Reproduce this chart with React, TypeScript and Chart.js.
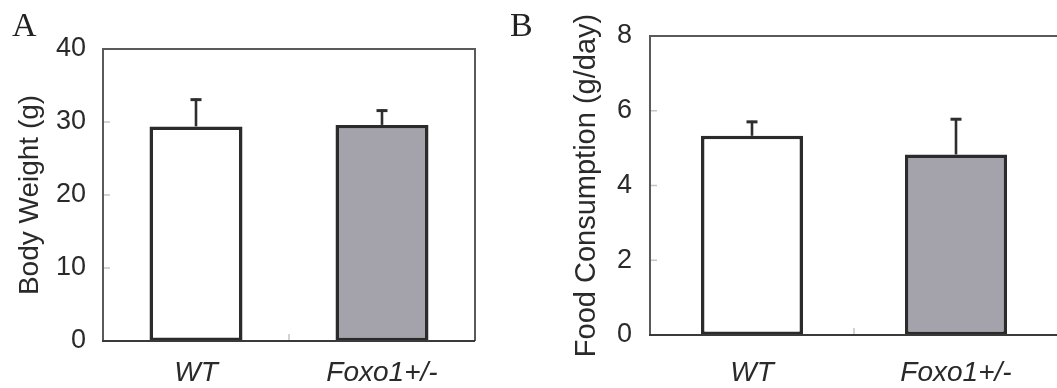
import React, { useEffect, useRef } from 'react';
import { Chart, registerables } from 'chart.js';

Chart.register(...registerables);

// Groups compared in both panels
const groups = ['WT', 'Foxo1+/-'];

// Panel A: body weight (g), mean and SE
const bodyWeight = [29.4, 29.6];
const bodyWeightErr = [3.8, 2.1];
const bodyWeightTicks = [0, 10, 20, 30, 40];

// Panel B: food consumption (g/day), mean and SE
const foodConsumption = [5.33, 4.83];
const foodConsumptionErr = [0.4, 0.97];
const foodConsumptionTicks = [0, 2, 4, 6, 8];

const barFills = ['#ffffff', '#a4a3ab'];
const SANS = "'Liberation Sans', Arial, Helvetica, sans-serif";
const SERIF = "'Liberation Serif', 'Times New Roman', serif";

// Box around the plot area plus short inward tick marks
const framePlugin = {
  id: 'frame',
  beforeDatasetsDraw(chart: any) {
    const { ctx, chartArea: a, scales } = chart;
    ctx.save();
    ctx.strokeStyle = '#c4c4c8';
    ctx.lineWidth = 1.5;
    const y = scales.y;
    y.ticks.forEach((_t: any, i: number) => {
      const py = y.getPixelForTick(i);
      ctx.beginPath();
      ctx.moveTo(a.left, py);
      ctx.lineTo(a.left + 7, py);
      ctx.stroke();
    });
    const x = scales.x;
    const mid = x.getPixelForValue(0.5);
    ctx.beginPath();
    ctx.moveTo(mid, a.bottom);
    ctx.lineTo(mid, a.bottom - 7);
    ctx.stroke();
    ctx.restore();
  },
  afterDatasetsDraw(chart: any) {
    const { ctx, chartArea: a } = chart;
    ctx.save();
    ctx.strokeStyle = '#5a5a5a';
    ctx.lineWidth = 2;
    ctx.beginPath();
    ctx.moveTo(a.left, a.bottom);
    ctx.lineTo(a.left, a.top);
    ctx.lineTo(a.right, a.top);
    ctx.lineTo(a.right, a.bottom);
    ctx.stroke();
    ctx.strokeStyle = '#3a3a3a';
    ctx.beginPath();
    ctx.moveTo(a.left - 1, a.bottom);
    ctx.lineTo(a.right, a.bottom);
    ctx.stroke();
    ctx.restore();
  },
};

// Upward error bars from each bar top to mean + SE
const errorBarPlugin = {
  id: 'errorBars',
  afterDatasetsDraw(chart: any, _args: any, opts: any) {
    const errs: number[] = opts.errors || [];
    const { ctx, scales } = chart;
    const meta = chart.getDatasetMeta(0);
    const values = chart.data.datasets[0].data as number[];
    ctx.save();
    ctx.strokeStyle = '#2e2e2e';
    meta.data.forEach((bar: any, i: number) => {
      const top = scales.y.getPixelForValue(values[i] + errs[i]);
      ctx.lineWidth = 2.6;
      ctx.beginPath();
      ctx.moveTo(bar.x, bar.y);
      ctx.lineTo(bar.x, top);
      ctx.stroke();
      ctx.lineWidth = 3;
      ctx.beginPath();
      ctx.moveTo(bar.x - 5.5, top + 1);
      ctx.lineTo(bar.x + 5.5, top + 1);
      ctx.stroke();
    });
    ctx.restore();
  },
};

type PanelProps = {
  left: number;
  width: number;
  values: number[];
  errors: number[];
  ticks: number[];
  title: string;
  titleSize: number;
  titleOffset: number;
  plotLeft: number;
  plotTop: number;
  plotRight: number;
  plotBottom: number;
  tickPad: number;
  labelPad: number;
};

function BarPanel(p: PanelProps) {
  const ref = useRef<HTMLCanvasElement>(null);
  useEffect(() => {
    if (!ref.current) return;
    const chart = new Chart(ref.current, {
      type: 'bar',
      data: {
        labels: groups,
        datasets: [
          {
            data: p.values,
            backgroundColor: barFills,
            borderColor: '#2b2b2b',
            borderWidth: 3.5,
            borderSkipped: false,
            barPercentage: 0.5,
            categoryPercentage: 1,
          },
        ],
      },
      options: {
        responsive: false,
        animation: false,
        events: [],
        layout: {
          padding: { left: 0, top: p.plotTop, right: p.width - p.plotRight, bottom: 0 },
        },
        plugins: {
          legend: { display: false },
          tooltip: { enabled: false },
          errorBars: { errors: p.errors },
        } as any,
        scales: {
          x: {
            grid: { display: false, drawTicks: false },
            border: { display: false },
            ticks: {
              color: '#2a2a2a',
              padding: p.labelPad,
              font: { family: SANS, size: 28, style: 'italic' },
            },
            afterFit: (s: any) => {
              s.height = 388 - p.plotBottom;
            },
          },
          y: {
            min: p.ticks[0],
            max: p.ticks[p.ticks.length - 1],
            grid: { display: false, drawTicks: false },
            border: { display: false },
            ticks: {
              stepSize: p.ticks[1] - p.ticks[0],
              color: '#2a2a2a',
              padding: p.tickPad,
              font: { family: SANS, size: 27 },
            },
            title: {
              display: true,
              text: p.title,
              color: '#2a2a2a',
              padding: { top: p.titleOffset, bottom: 0 },
              font: { family: SANS, size: p.titleSize },
            },
            afterFit: (s: any) => {
              s.width = p.plotLeft;
            },
          },
        },
      },
      plugins: [framePlugin, errorBarPlugin],
    });
    return () => chart.destroy();
  }, []);
  return (
    <canvas
      ref={ref}
      width={p.width}
      height={388}
      style={{ position: 'absolute', left: p.left, top: 0, width: p.width, height: 388 }}
    />
  );
}

const letterStyle: React.CSSProperties = {
  position: 'absolute',
  top: 8,
  fontFamily: SERIF,
  fontSize: 34,
  lineHeight: 1,
  color: '#222',
};

export default function App() {
  return (
    <div
      style={{
        position: 'fixed',
        left: 0,
        top: 0,
        width: 1057,
        height: 388,
        overflow: 'hidden',
        background: '#fff',
      }}
    >
      <BarPanel
        left={0}
        width={500}
        values={bodyWeight}
        errors={bodyWeightErr}
        ticks={bodyWeightTicks}
        title="Body Weight (g)"
        titleSize={28}
        titleOffset={13}
        plotLeft={103}
        plotTop={49}
        plotRight={475}
        plotBottom={341}
        tickPad={17}
        labelPad={15}
      />
      <BarPanel
        left={500}
        width={558}
        values={foodConsumption}
        errors={foodConsumptionErr}
        ticks={foodConsumptionTicks}
        title="Food Consumption (g/day)"
        titleSize={29}
        titleOffset={70}
        plotLeft={150}
        plotTop={36}
        plotRight={558}
        plotBottom={335}
        tickPad={18}
        labelPad={21}
      />
      <div style={{ ...letterStyle, left: 12 }}>A</div>
      <div style={{ ...letterStyle, left: 510 }}>B</div>
    </div>
  );
}
